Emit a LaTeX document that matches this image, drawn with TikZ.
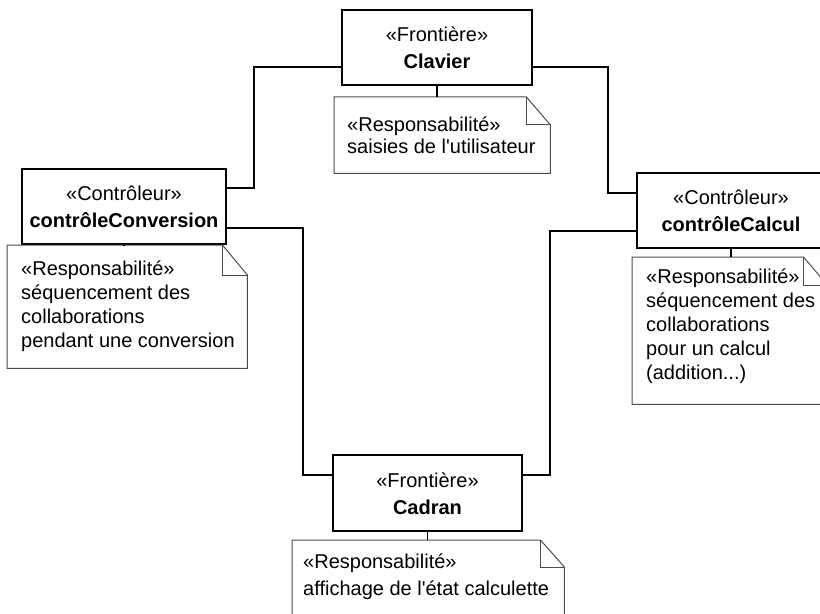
\documentclass[tikz,border=0pt]{standalone}
\usepackage{fontspec}
\setmainfont{Liberation Sans}[Ligatures=TeXOff]
\begin{document}
\begin{tikzpicture}[x=1bp,y=-1bp,
  box/.style={draw, line width=1.8bp, inner sep=0pt, align=center,
    minimum height=75bp, font=\fontsize{20bp}{27bp}\selectfont},
  noteframe/.style={draw=none, inner sep=0pt, anchor=north west},
  notetext/.style={inner sep=0pt, anchor=north west, align=left},
  noteline/.style={draw=black!70, line width=1bp},
  link/.style={draw, line width=1.8bp},
  attach/.style={draw, line width=1.3bp}]

% page frame
\useasboundingbox (0,0) rectangle (820,614);
\fill[white] (0,0) rectangle (820,614);
\clip (0,0) rectangle (820,614);

% folded-corner outline of a note node
\newcommand\drawnotefold[3]{%
  \draw[noteline] (#1.north west) -- ([xshift=-#2bp]#1.north east)
     -- ([yshift=-#3bp]#1.north east) -- (#1.south east)
     -- (#1.south west) -- cycle;
  \draw[noteline] ([xshift=-#2bp]#1.north east) |- ([yshift=-#3bp]#1.north east);}

% classes
\node[box, minimum width=190bp] (clavier) at (437,47.5)
  {\rule{0pt}{16bp}«Frontière»\\\textbf{Clavier}};
\node[box, minimum width=204bp] (conv) at (124,206.5)
  {\rule{0pt}{16bp}«Contrôleur»\\\textbf{contrôleConversion}};
\node[box, minimum width=188bp] (calc) at (731,210.5)
  {\rule{0pt}{16bp}«Contrôleur»\\\textbf{contrôleCalcul}};
\node[box, minimum width=189bp, minimum height=76bp] (cadran) at (427.5,493)
  {\rule{0pt}{16bp}«Frontière»\\\textbf{Cadran}};

% responsibility notes
\node[noteframe, minimum width=216bp, minimum height=76bp] (nclav) at (334,97) {};
\drawnotefold{nclav}{24}{28}
\node[notetext, font=\fontsize{20bp}{22bp}\selectfont] (tclav) at (347,115)
  {\rule{0pt}{16bp}«Responsabilité»\\saisies de l'utilisateur};

\node[noteframe, minimum width=240bp, minimum height=123bp] (nconv) at (7,245) {};
\drawnotefold{nconv}{25}{30}
\node[notetext, font=\fontsize{20bp}{24bp}\selectfont] (tconv) at (21,259)
  {\rule{0pt}{16bp}«Responsabilité»\\séquencement des\\collaborations\\pendant une conversion};

\node[noteframe, minimum width=195bp, minimum height=147bp] (ncalc) at (632,257) {};
\drawnotefold{ncalc}{24}{28}
\node[notetext, font=\fontsize{20bp}{24bp}\selectfont] (tcalc) at (646,267)
  {\rule{0pt}{16bp}«Responsabilité»\\séquencement des\\collaborations\\pour un calcul\\(addition...)};

\node[noteframe, minimum width=272bp, minimum height=100bp] (ncad) at (292,540) {};
\drawnotefold{ncad}{24}{27}
\node[notetext, font=\fontsize{20bp}{27bp}\selectfont] (tcad) at (303,552)
  {\rule{0pt}{16bp}«Responsabilité»\\affichage de l'état calculette};

% associations between classes
\draw[link] (clavier.west |- 0,67) -| (254,188) -- (conv.east |- 0,188);
\draw[link] (clavier.east |- 0,67) -| (608,193) -- (calc.west |- 0,193);
\draw[link] (conv.east |- 0,228) -| (303,475) -- (cadran.west |- 0,475);
\draw[link] (cadran.east |- 0,475) -| (550,231) -- (calc.west |- 0,231);

% note attachments
\draw[attach] (clavier.south) -- (nclav.north -| clavier.south);
\draw[attach] (conv.south) -- (nconv.north -| conv.south);
\draw[attach] (calc.south) -- (ncalc.north -| calc.south);
\draw[attach] (cadran.south) -- (ncad.north -| cadran.south);
\end{tikzpicture}
\end{document}
